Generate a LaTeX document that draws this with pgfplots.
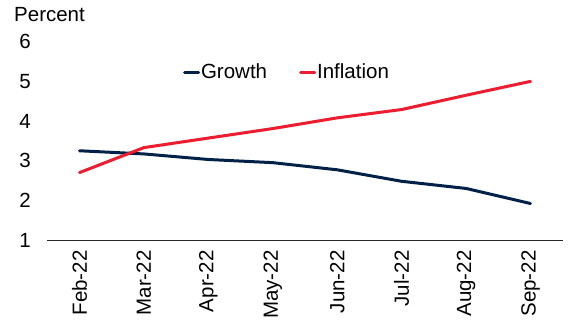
\documentclass[border=0pt]{standalone}
\usepackage{pgfplots}
\pgfplotsset{compat=1.18}
\usepackage{fontspec}
\setmainfont{Liberation Sans}
\definecolor{growthc}{RGB}{0,33,71}
\definecolor{inflc}{RGB}{237,28,46}
\pgfplotstableread{
x growth infl
0 3.25 2.70
1 3.17 3.33
2 3.03 3.57
3 2.95 3.81
4 2.77 4.08
5 2.48 4.29
6 2.30 4.65
7 1.92 5.00
}\datatable
\newcommand{\chartfont}{\fontsize{20.5bp}{24bp}\selectfont}
\begin{document}
\begin{tikzpicture}
\useasboundingbox (0,0) rectangle (583bp,333bp);
\begin{axis}[
  at={(47.3bp,93bp)}, anchor=south west,
  scale only axis, width=515.4bp, height=198.3bp,
  xmin=-0.5, xmax=7.5, ymin=1, ymax=6,
  axis y line*=left,
  y axis line style={draw=none},
  axis x line*=bottom,
  x axis line style={-, line width=0.9bp, color=black!85},
  xtick={0,...,7},
  xticklabels={Feb-22,Mar-22,Apr-22,May-22,Jun-22,Jul-22,Aug-22,Sep-22},
  ytick={1,...,6},
  major tick length=0pt,
  /pgf/number format/assume math mode=true,
  xticklabel style={font=\chartfont, rotate=90, anchor=east, xshift=-7bp},
  yticklabel style={font=\chartfont, xshift=-13bp},
  legend style={draw=none, fill=none, at={(0.263,0.847)}, anchor=west,
    font=\chartfont, inner sep=0pt,
    nodes={inner sep=1bp}},
  legend columns=2,
  legend cell align=left,
  /tikz/every even column/.append style={column sep=31bp},
  /tikz/every odd column/.append style={column sep=0bp},
  legend image code/.code={\draw[#1, line width=3bp, line cap=round] (0bp,0bp) -- (14bp,0bp);},
  clip=false,
]
\addplot[growthc, line width=3bp, line join=round, line cap=round] table[x=x, y=growth] {\datatable};
\addlegendentry{Growth}
\addplot[inflc, line width=3bp, line join=round, line cap=round] table[x=x, y=infl] {\datatable};
\addlegendentry{Inflation}
\node[anchor=west, inner sep=0pt, font=\chartfont] at (rel axis cs:0,1) [xshift=-33.3bp, yshift=26.7bp] {Percent};
\end{axis}
\end{tikzpicture}
\end{document}
